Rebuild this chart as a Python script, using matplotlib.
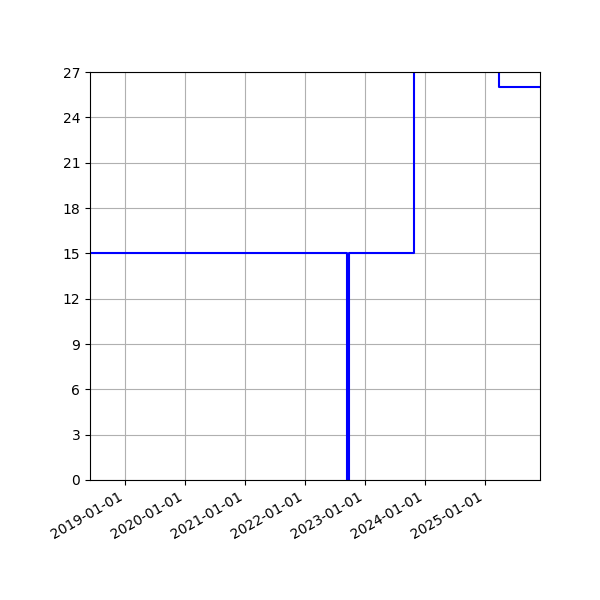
import matplotlib
matplotlib.use("Agg")
import matplotlib.pyplot as plt
import matplotlib.dates as mdates
import pandas as pd

# step-series: date of change and the value held from then on
dates = pd.to_datetime([
    "2018-06-01", "2022-09-15", "2022-09-22", "2023-10-25",
    "2025-03-27", "2025-12-01",
])
values = [15, 0, 15, 30, 26, 26]

y_ticks = list(range(0, 28, 3))

fig, ax = plt.subplots(figsize=(6, 6), dpi=100)
ax.plot(dates, values, drawstyle="steps-post", color="blue")

ax.set_xlim(dates[0], dates[-1])
ax.set_ylim(0, 27)
ax.set_yticks(y_ticks)
ax.xaxis.set_major_locator(mdates.YearLocator())
ax.xaxis.set_major_formatter(mdates.DateFormatter("%Y-%m-%d"))
ax.grid(True)

fig.autofmt_xdate()
fig.subplots_adjust(left=0.15, right=0.9, top=0.88, bottom=0.2)
fig.savefig("out.png", dpi=100)
